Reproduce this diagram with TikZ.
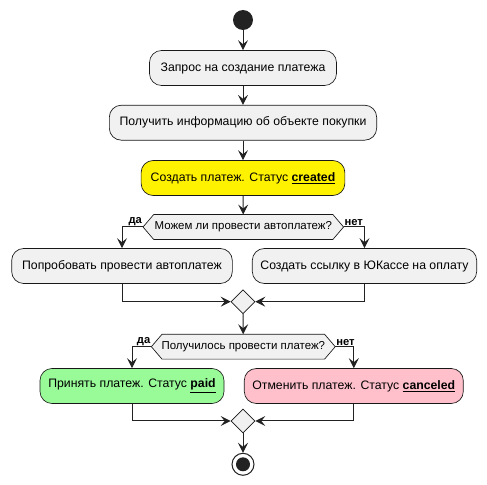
\documentclass[tikz,border=0pt]{standalone}
\usepackage{fontspec}
\setmainfont{Liberation Sans}
\usetikzlibrary{shapes.geometric,arrows.meta,calc}
\pgfdeclarelayer{bg}\pgfsetlayers{bg,main}
\definecolor{boxfill}{HTML}{F1F1F1}
\definecolor{boxline}{HTML}{181818}
\definecolor{dark}{HTML}{222222}
\definecolor{paleg}{HTML}{98FB98}
\definecolor{pinkc}{HTML}{FFC0CB}
\begin{document}
\begin{tikzpicture}[x=0.75pt,y=-0.75pt,
  act/.style={draw=boxline, line width=0.5pt, fill=boxfill, rounded corners=9pt,
    minimum height=26.25pt, inner sep=0pt, font=\fontsize{9.2}{11}\selectfont},
  dec/.style={draw=none, inner sep=0pt, minimum height=18.3pt, font=\fontsize{8.6}{10}\selectfont},
  hex/.style={draw=boxline, line width=0.5pt, fill=boxfill},
  merge/.style={diamond, draw=boxline, line width=0.5pt, fill=boxfill, inner sep=0pt, minimum width=18pt, minimum height=18pt},
  conn/.style={draw=dark, line width=0.75pt, -{Stealth[length=7.5pt,width=7.5pt,inset=3pt]}},
  lbl/.style={inner sep=0.6pt, font=\fontsize{8.4}{10}\selectfont\bfseries}]
\useasboundingbox (0,0) rectangle (487,485);
\node[circle, fill=dark, minimum size=15pt, inner sep=0pt] (start) at (243,20) {};
\node[act, minimum width=140.25pt] (b1) at (243,68) {Запрос на создание платежа};
\node[act, minimum width=200.5pt] (b2) at (243,122.7) {Получить информацию об объекте покупки};
\node[act, minimum width=152.8pt, fill=yellow] (b3) at (243,178) {Создать платеж. Статус \underline{\textbf{created}}};
\node[dec, minimum width=150pt] (d1) at (243.3,227) {Можем ли провести автоплатеж?};
\node[act, minimum width=165.5pt] (bL) at (122,266) {Попробовать провести автоплатеж};
\node[act, minimum width=168.3pt] (bR) at (364.5,266) {Создать ссылку в ЮКассе на оплату};
\node[merge] (m1) at (243,301.7) {};
\node[dec, minimum width=137.5pt] (d2) at (243.3,346.7) {Получилось провести платеж?};
\node[act, minimum width=138pt, fill=paleg] (g) at (132,386) {Принять платеж. Статус \underline{\textbf{paid}}};
\node[act, minimum width=164.25pt, fill=pinkc] (p) at (353.8,386) {Отменить платеж. Статус \underline{\textbf{canceled}}};
\node[merge] (m2) at (243,421) {};
\node[circle, draw=dark, line width=0.75pt, fill=white, minimum size=16.5pt, inner sep=0pt] (end) at (243,464.3) {};
\node[circle, fill=dark, minimum size=10.5pt, inner sep=0pt] (endin) at (end.center) {};
\begin{pgfonlayer}{bg}
\foreach \d in {d1,d2}{
\draw[hex] (\d.west) -- ([xshift=8pt]\d.north west) -- ([xshift=-8pt]\d.north east) -- (\d.east) -- ([xshift=-8pt]\d.south east) -- ([xshift=8pt]\d.south west) -- cycle;}
\end{pgfonlayer}
\node[lbl, anchor=south east] (y1) at (d1.west) {да};
\node[lbl, anchor=south west] (n1) at (d1.east) {нет};
\node[lbl, anchor=south east] (y2) at (d2.west) {да};
\node[lbl, anchor=south west] (n2) at (d2.east) {нет};
\draw[conn] (start) -- (b1);
\draw[conn] (b1) -- (b2);
\draw[conn] (b2) -- (b3);
\draw[conn] (b3) -- (d1);
\draw[conn] (d1.west) -| (bL.north);
\draw[conn] (d1.east) -| (bR.north);
\draw[conn] (bL.south) |- (m1.west);
\draw[conn] (bR.south) |- (m1.east);
\draw[conn] (m1) -- (d2);
\draw[conn] (d2.west) -| (g.north);
\draw[conn] (d2.east) -| (p.north);
\draw[conn] (g.south) |- (m2.west);
\draw[conn] (p.south) |- (m2.east);
\draw[conn] (m2) -- (end);
\end{tikzpicture}
\end{document}
